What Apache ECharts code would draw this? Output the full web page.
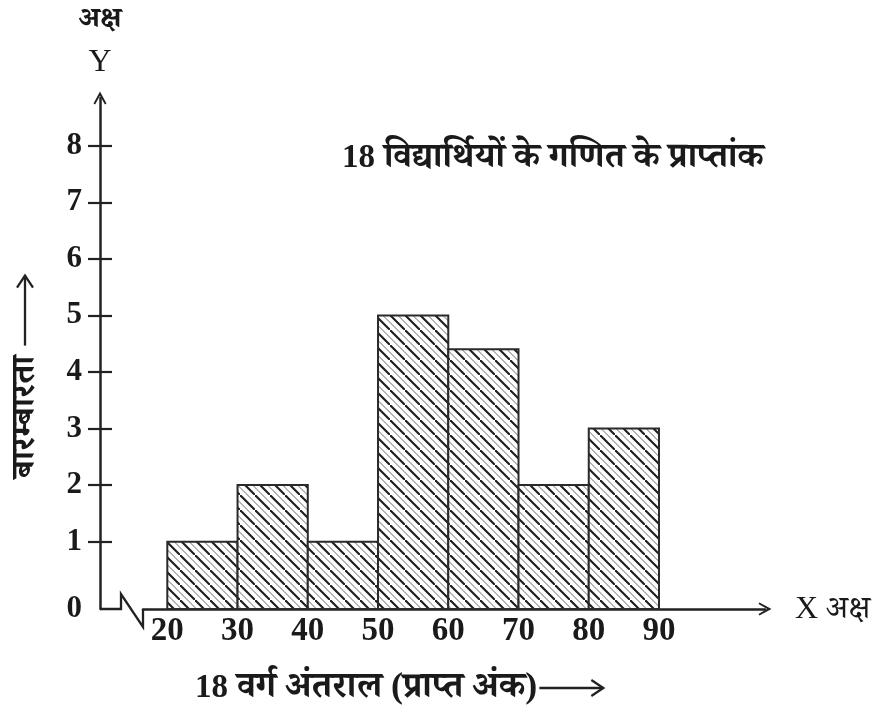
<!DOCTYPE html>
<html>
<head>
<meta charset="utf-8">
<script src="https://cdn.jsdelivr.net/npm/echarts@6/dist/echarts.min.js"></script>
<style>
html,body{margin:0;padding:0;background:#fff;}
#chart{width:880px;height:707px;}
</style>
</head>
<body>
<div id="chart"></div>
<script>
// ---- data ----
var classLower = [20, 30, 40, 50, 60, 70, 80];
var classUpper = [30, 40, 50, 60, 70, 80, 90];
var frequency  = [1, 2, 1, 5, 4.4, 2, 3];
var xTickLabels = [20, 30, 40, 50, 60, 70, 80, 90];
var yTickLabels = [0, 1, 2, 3, 4, 5, 6, 7, 8];

var titleNum = '18';
var titleText = ' विद्यार्थियों के गणित के प्राप्तांक';
var xNameNum = '18';
var xNameText = ' वर्ग अंतराल (प्राप्त अंक)';
var yNameText = 'बारम्बारता';

// axis ranges
var xMin = 16.54, xMax = 105.09;
var yMin = -0.19, yMax = 8.844;

var INK = '#222222';
var SERIF = "'Liberation Serif','Noto Serif Devanagari','Noto Sans Devanagari','Lohit Devanagari',serif";

// hatch pattern
function makeHatch() {
  var s = 15;
  var c = document.createElement('canvas');
  c.width = s; c.height = s;
  var g = c.getContext('2d');
  g.fillStyle = '#ffffff';
  g.fillRect(0, 0, s, s);
  g.strokeStyle = '#1e1e1e';
  g.lineWidth = 2.1;
  g.beginPath();
  g.moveTo(-2, -2); g.lineTo(s + 2, s + 2);
  g.stroke();
  g.strokeStyle = '#6a6a6a';
  g.lineWidth = 1;
  var h = s / 2;
  g.beginPath();
  g.moveTo(h - 2, -2); g.lineTo(s + 2, h + 2);
  g.moveTo(-2, h - 2); g.lineTo(h + 2, s + 2);
  g.stroke();
  return c;
}
var hatch = makeHatch();

var barData = classLower.map(function (lo, i) {
  return [lo, classUpper[i], frequency[i]];
});

var arrowPath = 'path://M0,13 L7,0 L14,13 L12.3,14 L7,4.6 L1.7,14 Z';

function textWidth(str, font) {
  var c = document.createElement('canvas').getContext('2d');
  c.font = font;
  return c.measureText(str).width;
}

var chart = echarts.init(document.getElementById('chart'));
var option = {
  animation: false,
  backgroundColor: '#ffffff',
  grid: { left: 143, right: 115, top: 98, bottom: 98 },
  xAxis: {
    type: 'value',
    min: xMin, max: xMax,
    splitLine: { show: false },
    axisLine: {
      show: true, onZero: false,
      lineStyle: { color: INK, width: 2.5 },
      symbol: ['none', arrowPath],
      symbolSize: [14, 13]
    },
    axisTick: { show: false },
    axisLabel: {
      customValues: xTickLabels,
      fontFamily: SERIF, fontWeight: 'bold', fontSize: 33,
      color: '#1a1a1a', margin: 6
    }
  },
  yAxis: [{
    type: 'value',
    min: yMin, max: yMax,
    position: 'left', offset: 43,
    splitLine: { show: false },
    axisLine: {
      show: true,
      lineStyle: { color: INK, width: 2.5 },
      symbol: ['none', arrowPath],
      symbolSize: [14, 13]
    },
    axisTick: {
      show: true, length: 12, inside: false,
      customValues: yTickLabels.slice(1),
      lineStyle: { color: INK, width: 2.2 }
    },
    axisLabel: {
      customValues: [yMin].concat(yTickLabels.slice(1)),
      formatter: function (v) { return v < 0.5 ? '0' : String(Math.round(v)); },
      fontFamily: SERIF, fontWeight: 'bold', fontSize: 31,
      color: '#1a1a1a', margin: 18
    }
  }, {
    type: 'value',
    min: yMin, max: yMax,
    position: 'left', offset: 43,
    splitLine: { show: false },
    axisLine: { show: false },
    axisTick: {
      show: true, length: 12, inside: true,
      customValues: yTickLabels.slice(1),
      lineStyle: { color: INK, width: 2.2 }
    },
    axisLabel: { show: false }
  }],
  series: [{
    type: 'custom',
    data: barData,
    encode: { x: [0, 1], y: 2 },
    renderItem: function (params, api) {
      var p0 = api.coord([api.value(0), yMin]);
      var p1 = api.coord([api.value(1), api.value(2)]);
      return {
        type: 'rect',
        shape: { x: p0[0], y: p1[1], width: p1[0] - p0[0], height: p0[1] - p1[1] },
        style: {
          fill: { image: hatch, repeat: 'repeat' },
          stroke: '#2a2a2a',
          lineWidth: 2
        }
      };
    }
  }]
};
chart.setOption(option);

// decorative texts, arrows and axis break
var origin = chart.convertToPixel({ gridIndex: 0 }, [xMin, yMin]);
var yAxisX = origin[0] - 43;

var NUM_SIZE = 33;
var numFont = "bold " + NUM_SIZE + "px 'Liberation Serif',serif";

function richLabel(x, y, num, txt, hiSize) {
  return {
    type: 'text', x: x, y: y,
    style: {
      text: '{n|' + num + '}{t|' + txt + '}',
      rich: {
        n: { fontFamily: "'Liberation Serif',serif", fontWeight: 'bold', fontSize: NUM_SIZE, fill: '#1a1a1a' },
        t: { fontFamily: SERIF, fontWeight: 'bold', fontSize: hiSize, fill: '#1a1a1a' }
      },
      verticalAlign: 'middle', align: 'left'
    }
  };
}

var TITLE_SIZE = 35.5, XNAME_SIZE = 36;
var xNameX = 195, xNameY = 688;
var xNameW = textWidth(xNameNum, numFont) + textWidth(xNameText, "bold " + XNAME_SIZE + "px " + SERIF);
var xArrowStart = xNameX + xNameW + 2;
var xArrowEnd = xArrowStart + 64;

var yNameFont = "bold 34px " + SERIF;
var yNameW = textWidth(yNameText, yNameFont);
var yNameBottom = 478, yNameX = 25;
var yArrowStart = yNameBottom - yNameW - 10;
var yArrowEnd = yArrowStart - 70;

chart.setOption({
  graphic: [
    {
      type: 'polyline',
      shape: { points: [
        [yAxisX, origin[1]], [yAxisX + 21, origin[1]],
        [yAxisX + 21, origin[1] - 15], [origin[0], origin[1] + 18],
        [origin[0], origin[1]]
      ] },
      style: { stroke: INK, lineWidth: 2.3, fill: null }
    },
    {
      type: 'text', x: yAxisX, y: 20,
      style: { text: 'अक्ष', font: "bold 29px " + SERIF, fill: '#1a1a1a', align: 'center', verticalAlign: 'middle' }
    },
    {
      type: 'text', x: yAxisX, y: 63,
      style: { text: 'Y', font: "32px " + SERIF, fill: '#1a1a1a', align: 'center', verticalAlign: 'middle' }
    },
    {
      type: 'text', x: 795, y: 610,
      style: { text: 'X अक्ष', font: "32px " + SERIF, fill: '#1a1a1a', align: 'left', verticalAlign: 'middle' }
    },
    richLabel(342, 158, titleNum, titleText, TITLE_SIZE),
    richLabel(xNameX, xNameY, xNameNum, xNameText, XNAME_SIZE),
    {
      type: 'polyline',
      shape: { points: [[xArrowStart, xNameY], [xArrowEnd, xNameY]] },
      style: { stroke: INK, lineWidth: 2.3, fill: null }
    },
    {
      type: 'polyline',
      shape: { points: [[xArrowEnd - 12, xNameY - 8], [xArrowEnd, xNameY], [xArrowEnd - 12, xNameY + 8]] },
      style: { stroke: INK, lineWidth: 2.3, fill: null }
    },
    {
      type: 'text', x: yNameX, y: yNameBottom, rotation: Math.PI / 2,
      style: { text: yNameText, font: yNameFont, fill: '#1a1a1a', align: 'left', verticalAlign: 'middle' }
    },
    {
      type: 'polyline',
      shape: { points: [[yNameX, yArrowStart], [yNameX, yArrowEnd]] },
      style: { stroke: INK, lineWidth: 2.3, fill: null }
    },
    {
      type: 'polyline',
      shape: { points: [[yNameX - 8, yArrowEnd + 12], [yNameX, yArrowEnd], [yNameX + 8, yArrowEnd + 12]] },
      style: { stroke: INK, lineWidth: 2.3, fill: null }
    }
  ]
});
</script>
</body>
</html>
